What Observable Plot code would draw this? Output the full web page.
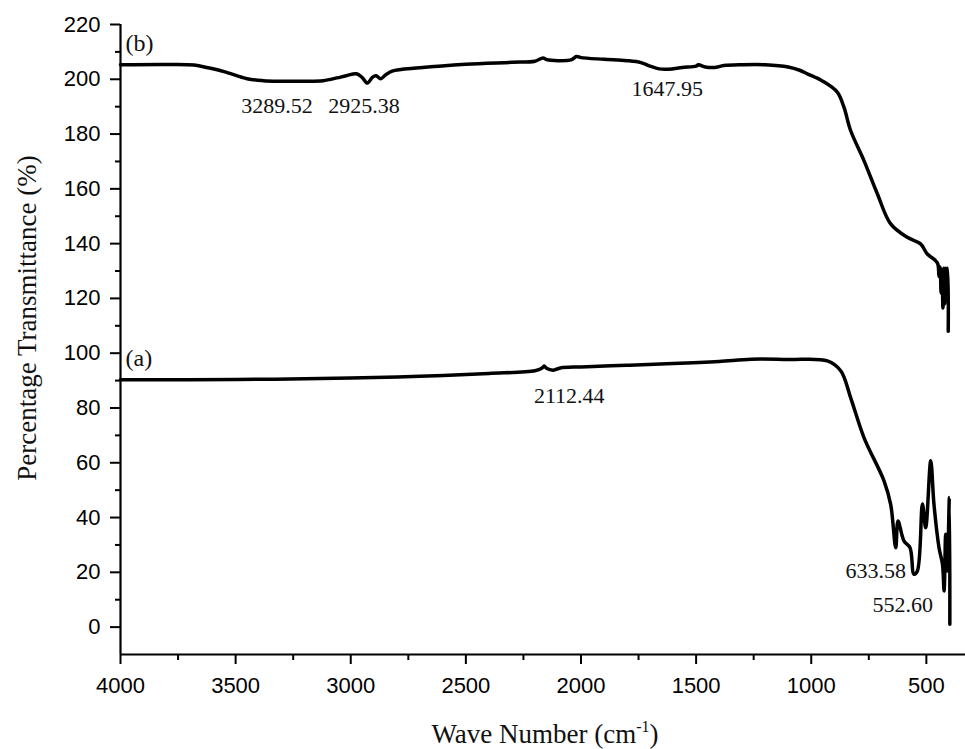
<!DOCTYPE html>
<html>
<head>
<meta charset="utf-8">
<script src="https://cdn.jsdelivr.net/npm/d3@7"></script>
<script src="https://cdn.jsdelivr.net/npm/@observablehq/plot@0.6"></script>
<style>
html, body { margin: 0; padding: 0; background: #fff; }
#chart svg { display: block; }
</style>
</head>
<body>
<div id="chart"></div>
<script>
// ---- Data ----
// Curve (b): wavenumber (cm-1) and transmittance (%)
const waveB = [4000, 3800, 3680, 3620, 3550, 3450, 3380, 3300, 3200, 3120, 3060, 3020, 2975, 2950, 2928, 2905, 2890, 2870, 2850, 2820, 2700, 2500, 2300, 2200, 2165, 2150, 2100, 2040, 2020, 2000, 1900, 1800, 1740, 1700, 1660, 1620, 1560, 1500, 1490, 1460, 1420, 1380, 1300, 1200, 1100, 1050, 1017, 950, 887, 858, 829, 771, 713, 655, 583, 525, 496, 460, 450, 445, 440, 436, 432, 428, 424, 420, 416, 412, 408, 405];
const transB = [205.3, 205.4, 205.2, 204.2, 202.8, 200.2, 199.5, 199.3, 199.3, 199.5, 200.5, 201.3, 202.0, 200.6, 198.6, 200.8, 201.3, 200.2, 201.5, 203.0, 204.2, 205.5, 206.2, 206.6, 207.8, 207.2, 206.8, 207.2, 208.3, 207.9, 207.3, 206.8, 206.1, 204.8, 203.8, 203.7, 204.3, 204.8, 205.3, 204.5, 204.3, 205.0, 205.3, 205.3, 204.5, 203.3, 202.0, 199.3, 195.3, 189.8, 181.3, 170.3, 158.2, 147.2, 142.3, 139.9, 136.2, 133.8, 132.5, 128.0, 131.5, 122.0, 130.5, 116.5, 131.0, 118.0, 131.0, 130.0, 131.0, 108.0];

// Curve (a)
const waveA = [4000, 3500, 3000, 2700, 2400, 2200, 2170, 2160, 2150, 2120, 2090, 2000, 1800, 1600, 1400, 1261, 1100, 930, 872, 829, 771, 684, 655, 633, 623, 597, 571, 554, 539, 517, 503, 481, 467, 445, 430, 423, 416, 409, 400, 398];
const transA = [90.3, 90.4, 90.9, 91.6, 92.6, 93.6, 94.5, 95.3, 94.5, 93.8, 94.6, 95.0, 95.6, 96.2, 97.0, 97.8, 97.7, 97.2, 93.6, 83.8, 69.2, 53.4, 44.8, 29.0, 38.7, 31.4, 29.0, 19.3, 20.5, 44.9, 36.3, 60.7, 44.9, 29.0, 22.9, 13.2, 33.9, 20.5, 47.3, 1.0];

// Axis ticks
const xMajorTicks = [4000, 3500, 3000, 2500, 2000, 1500, 1000, 500];
const xMinorTicks = [3750, 3250, 2750, 2250, 1750, 1250, 750];
const yMajorTicks = [0, 20, 40, 60, 80, 100, 120, 140, 160, 180, 200, 220];
const yMinorTicks = [10, 30, 50, 70, 90, 110, 130, 150, 170, 190, 210];

// Peak annotations (in data coordinates)
const peakText = ["3289.52", "2925.38", "1647.95", "2112.44", "633.58", "552.60"];
const peakWave = [3320, 2942, 1625, 2051, 720, 603];
const peakTrans = [190.4, 190.4, 196.3, 84.4, 20.5, 8.0];

// Curve names
const curveText = ["(b)", "(a)"];
const curveWave = [3978, 3978];
const curveTrans = [213.3, 98.0];

// ---- Build tables ----
const rowsB = waveB.map((w, i) => ({w, t: transB[i]}));
const rowsA = waveA.map((w, i) => ({w, t: transA[i]}));
const peaks = peakText.map((s, i) => ({s, w: peakWave[i], t: peakTrans[i]}));
const names = curveText.map((s, i) => ({s, w: curveWave[i], t: curveTrans[i]}));

const serif = "'Liberation Serif', 'Times New Roman', serif";
const sans = "'Liberation Sans', Arial, sans-serif";
const plain = d => String(d);

const plot = Plot.plot({
  width: 965,
  height: 749,
  marginLeft: 120,
  marginRight: 0,
  marginTop: 24,
  marginBottom: 95,
  style: {background: "transparent", fontFamily: sans, fontSize: "22px", color: "#000", overflow: "visible"},
  x: {domain: [4000, 330], label: null},
  y: {domain: [-10, 220], label: null},
  marks: [
    Plot.axisY(yMajorTicks, {tickSize: 10, tickPadding: 10, strokeWidth: 2, fontSize: 22, tickFormat: plain, label: null}),
    Plot.axisY(yMinorTicks, {tickSize: 5, strokeWidth: 2, fill: "none", label: null}),
    Plot.axisX(xMajorTicks, {tickSize: 10, tickPadding: 13, strokeWidth: 2, fontSize: 22, tickFormat: plain, label: null}),
    Plot.axisX(xMinorTicks, {tickSize: 6, strokeWidth: 2, fill: "none", label: null}),
    Plot.ruleX([4000], {strokeWidth: 2.2, stroke: "#000"}),
    Plot.ruleY([-10], {strokeWidth: 2.2, stroke: "#000"}),
    Plot.line(rowsB, {x: "w", y: "t", stroke: "#000", strokeWidth: 3.5, strokeLinejoin: "round", curve: "catmull-rom"}),
    Plot.line(rowsA, {x: "w", y: "t", stroke: "#000", strokeWidth: 3.5, strokeLinejoin: "round", curve: "catmull-rom"}),
    Plot.text(peaks, {x: "w", y: "t", text: "s", fontFamily: serif, fontSize: 22, fill: "#111"}),
    Plot.text(names, {x: "w", y: "t", text: "s", textAnchor: "start", fontFamily: serif, fontSize: 24, fill: "#111"})
  ]
});

document.getElementById("chart").appendChild(plot);

// Axis titles (with superscript)
const svg = d3.select(plot);
const xt = svg.append("text")
  .attr("x", 545).attr("y", 743)
  .attr("text-anchor", "middle")
  .attr("font-family", serif)
  .attr("font-size", 27)
  .attr("fill", "#111");
xt.append("tspan").text("Wave Number (cm");
xt.append("tspan").attr("dy", -11).attr("font-size", 16).text("-1");
xt.append("tspan").attr("dy", 11).text(")");

svg.append("text")
  .attr("transform", "translate(36,318) rotate(-90)")
  .attr("text-anchor", "middle")
  .attr("font-family", serif)
  .attr("font-size", 27)
  .attr("fill", "#111")
  .text("Percentage Transmittance (%)");
</script>
</body>
</html>
